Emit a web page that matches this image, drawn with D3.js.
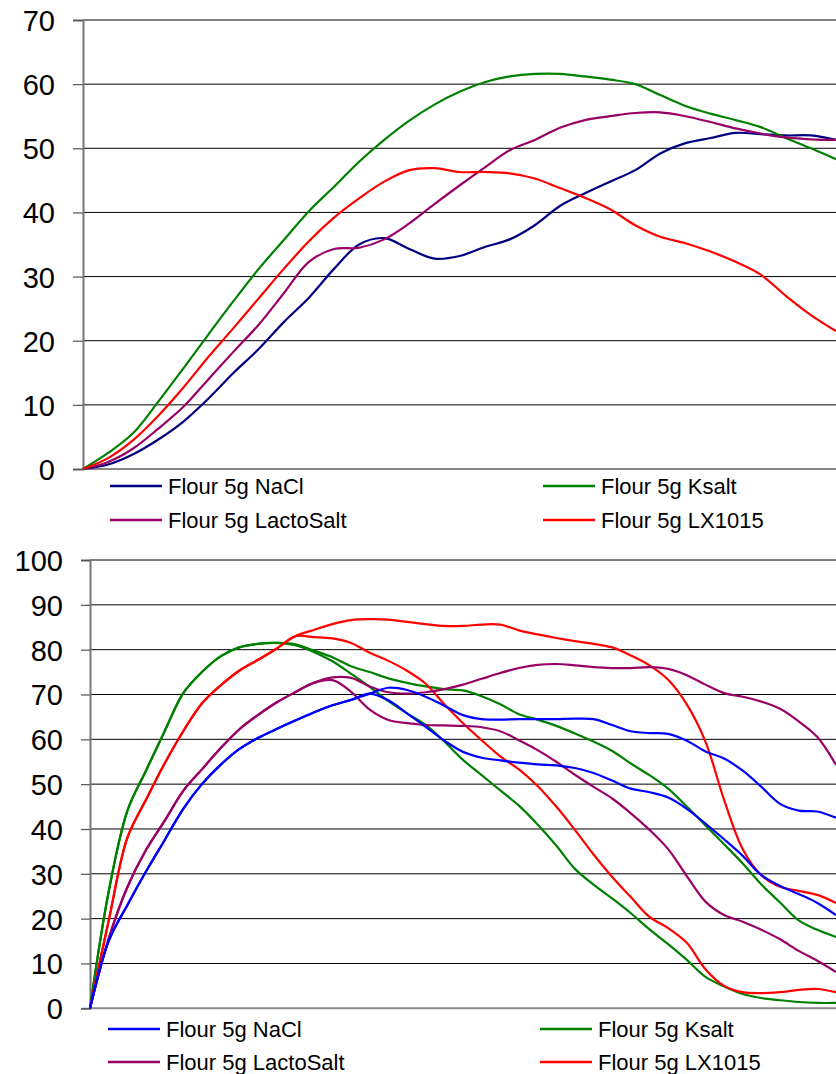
<!DOCTYPE html>
<html>
<head>
<meta charset="utf-8">
<script src="https://cdn.jsdelivr.net/npm/d3@7"></script>
<style>
  html, body { margin: 0; padding: 0; background: #fff; }
  svg { display: block; font-family: "Liberation Sans", Arial, sans-serif; }
</style>
</head>
<body>
<svg id="chart" width="836" height="1074"></svg>
<script>
// series names and colours
const seriesNames = ["Flour 5g NaCl", "Flour 5g Ksalt", "Flour 5g LactoSalt", "Flour 5g LX1015"];
const topColors = ["#000080", "#008000", "#990066", "#ff0000"];
const bottomColors = ["#0000ff", "#008000", "#990066", "#ff0000"];

// top chart: 31 samples per curve
const topNaCl = [0, 0.7, 2.3, 4.6, 7.4, 11, 15, 18.7, 22.9, 26.7, 31.2, 35, 36, 34.3, 32.8, 33.2, 34.6, 35.8, 38, 41, 43, 44.8, 46.6, 49.2, 50.8, 51.6, 52.4, 52.2, 52, 52, 51.3];
const topKsalt = [0, 2.5, 5.6, 10.5, 15.7, 21, 26.2, 31.2, 35.7, 40.2, 44, 47.9, 51.3, 54.3, 56.8, 58.8, 60.3, 61.2, 61.6, 61.6, 61.2, 60.7, 60, 58.3, 56.6, 55.4, 54.4, 53.3, 51.6, 50, 48.3];
const topLacto = [0, 1.1, 3.2, 6.3, 9.7, 14, 18.3, 22.5, 27.4, 32.3, 34.3, 34.5, 35.8, 38.3, 41.3, 44.2, 47, 49.7, 51.3, 53.2, 54.4, 55, 55.5, 55.6, 55, 54.1, 53.1, 52.3, 51.7, 51.4, 51.3];
const topLX = [0, 1.7, 4.5, 8.3, 12.7, 17.5, 22, 26.6, 31.2, 35.5, 39.2, 42.2, 44.8, 46.6, 46.9, 46.3, 46.3, 46.1, 45.3, 43.8, 42.3, 40.5, 38, 36.2, 35.2, 33.9, 32.3, 30.3, 27, 24, 21.5];
const topTicks = [0, 10, 20, 30, 40, 50, 60, 70];

// bottom chart: 41 samples per curve, two runs per recipe
const botNaClA = [0, 15, 23, 30.5, 37.5, 44.5, 50, 54.3, 57.8, 60.3, 62.3, 64.2, 66, 67.6, 68.8, 70.2, 71.5, 71, 69.5, 67.5, 65.4, 64.5, 64.4, 64.5, 64.5, 64.5, 64.6, 64.5, 63.2, 61.8, 61.4, 61.2, 59.7, 57.3, 55.7, 53, 49.4, 45.6, 44.1, 43.9, 42.5];
const botNaClB = [0, 15, 23, 30.5, 37.5, 44.5, 50, 54.3, 57.8, 60.3, 62.3, 64.2, 66, 67.6, 68.8, 70.2, 68.7, 65.8, 62.8, 59.7, 57.2, 55.9, 55.3, 54.8, 54.4, 54.2, 53.6, 52.5, 50.8, 49, 48.2, 47, 44.5, 41.2, 37.7, 34, 29.7, 27.3, 25.5, 23.5, 20.8];
const botKsaltA = [0, 26, 44, 53, 61.8, 70.3, 75, 78.5, 80.5, 81.3, 81.5, 81.2, 79.8, 78.3, 76.3, 75, 73.6, 72.6, 71.8, 71.2, 70.9, 69.6, 67.8, 65.6, 64.4, 63, 61.3, 59.5, 57.4, 54.6, 52, 49, 45, 40.8, 36.6, 32.3, 27.6, 23.6, 19.6, 17.5, 15.9];
const botKsaltB = [0, 26, 44, 53, 61.8, 70.3, 75, 78.5, 80.5, 81.3, 81.5, 81, 79.5, 77.4, 74.6, 71.7, 68.5, 65.8, 63.2, 59.5, 55.4, 52, 48.6, 45.2, 41, 36.3, 31.1, 27.6, 24.5, 21.2, 17.6, 14.3, 10.8, 7, 4.9, 3.2, 2.3, 1.8, 1.4, 1.2, 1.2];
const botLactoA = [0, 15.5, 27, 35.3, 41.8, 48.5, 53.3, 58, 62.2, 65.4, 68.2, 70.5, 72.6, 73.8, 73.7, 71.8, 70.5, 70.2, 70.5, 71.2, 72.2, 73.5, 74.8, 75.9, 76.6, 76.8, 76.5, 76.1, 75.9, 75.9, 76.1, 75.7, 74.3, 72.2, 70.3, 69.5, 68.4, 66.8, 64, 60.5, 54.3];
const botLactoB = [0, 15.5, 27, 35.3, 41.8, 48.5, 53.3, 58, 62.2, 65.4, 68.2, 70.5, 72.6, 73.2, 70.6, 66.6, 64.3, 63.6, 63.2, 63.1, 63, 62.7, 61.8, 59.8, 57.6, 55, 52.1, 49.4, 46.8, 43.5, 39.8, 35.5, 29.5, 23.8, 20.8, 19.3, 17.5, 15.4, 12.8, 10.6, 8.1];
const botLXA = [0, 19.5, 38, 46.5, 54.6, 61.8, 68, 72, 75.3, 77.7, 80.2, 83, 84.4, 85.7, 86.6, 86.8, 86.7, 86.2, 85.7, 85.3, 85.3, 85.6, 85.6, 84.3, 83.4, 82.6, 81.9, 81.3, 80.5, 78.7, 76.5, 73.3, 67.8, 59.5, 46.5, 35.5, 29.7, 27.1, 26.2, 25.3, 23.5];
const botLXB = [0, 19.5, 38, 46.5, 54.6, 61.8, 68, 72, 75.3, 77.7, 80.2, 83, 82.8, 82.5, 81.5, 79.3, 77.5, 75.3, 72.4, 67.8, 63.6, 59.8, 56.2, 53.3, 49.6, 45, 39.8, 34.3, 29.3, 24.8, 20.4, 17.9, 14.6, 8.7, 5, 3.6, 3.4, 3.6, 4.1, 4.3, 3.6];
const bottomTicks = [0, 10, 20, 30, 40, 50, 60, 70, 80, 90, 100];

const svg = d3.select("#chart");

function drawPanel(cfg) {
  const g = svg.append("g");
  const n = cfg.series[0].values.length;
  const x = d3.scaleLinear().domain([0, n - 1]).range([cfg.left, 836]);
  const y = d3.scaleLinear().domain([0, cfg.max]).range([cfg.bottom, cfg.top]);

  // gridlines
  g.selectAll("line.grid").data(cfg.ticks.slice(1)).enter().append("line")
    .attr("x1", cfg.left).attr("x2", 836)
    .attr("y1", d => y(d)).attr("y2", d => y(d))
    .attr("stroke", "#000").attr("stroke-width", 1);

  // y axis with outward ticks
  const axis = d3.axisLeft(y).tickValues(cfg.ticks).tickSize(cfg.tickLen).tickPadding(cfg.pad).tickFormat(d3.format("d"));
  const ax = g.append("g").attr("transform", `translate(${cfg.left},0)`).call(axis);
  ax.select(".domain").attr("stroke", "#777").attr("stroke-width", 2);
  ax.selectAll(".tick line").attr("stroke", "#555").attr("stroke-width", 1.2);
  ax.selectAll(".tick text").attr("font-size", 29).attr("fill", "#000")
    .attr("font-family", "'Liberation Sans', Arial, sans-serif").attr("dy", "0.36em");

  // x baseline
  g.append("line").attr("x1", cfg.left).attr("x2", 836)
    .attr("y1", y(0)).attr("y2", y(0))
    .attr("stroke", "#888").attr("stroke-width", 2);

  const line = d3.line().x((d, i) => x(i)).y(d => y(d)).curve(d3.curveCatmullRom.alpha(0.5));
  g.selectAll("path.series").data(cfg.series).enter().append("path")
    .attr("fill", "none")
    .attr("stroke", d => d.color)
    .attr("stroke-width", 2.2)
    .attr("d", d => line(d.values));

  // legend, two columns
  const leg = g.selectAll("g.leg").data(cfg.legend).enter().append("g")
    .attr("transform", (d, i) => `translate(${cfg.legX[i % 2]},${cfg.legY[Math.floor(i / 2)]})`);
  leg.append("line").attr("x1", 0).attr("x2", 52).attr("y1", 0).attr("y2", 0)
    .attr("stroke", d => d.color).attr("stroke-width", 2.5);
  leg.append("text").attr("x", 58).attr("y", 7.8)
    .attr("font-size", 22).attr("fill", "#000").text(d => d.name);
}

drawPanel({
  left: 83, top: 20, bottom: 469, max: 70, ticks: topTicks, tickLen: 10, pad: 18,
  series: [
    { values: topNaCl, color: topColors[0] },
    { values: topKsalt, color: topColors[1] },
    { values: topLacto, color: topColors[2] },
    { values: topLX, color: topColors[3] }
  ],
  // legend order: NaCl, Ksalt, LactoSalt, LX1015
  legend: [0, 1, 2, 3].map(i => ({ name: seriesNames[i], color: topColors[i] })),
  legX: [110, 543], legY: [486, 520]
});

drawPanel({
  left: 90, top: 560, bottom: 1008.3, max: 100, ticks: bottomTicks, tickLen: 9, pad: 18,
  series: [
    { values: botKsaltA, color: bottomColors[1] },
    { values: botKsaltB, color: bottomColors[1] },
    { values: botLXA, color: bottomColors[3] },
    { values: botLXB, color: bottomColors[3] },
    { values: botLactoA, color: bottomColors[2] },
    { values: botLactoB, color: bottomColors[2] },
    { values: botNaClA, color: bottomColors[0] },
    { values: botNaClB, color: bottomColors[0] }
  ],
  legend: [0, 1, 2, 3].map(i => ({ name: seriesNames[i], color: bottomColors[i] })),
  legX: [108, 540], legY: [1029, 1062]
});
</script>
</body>
</html>
